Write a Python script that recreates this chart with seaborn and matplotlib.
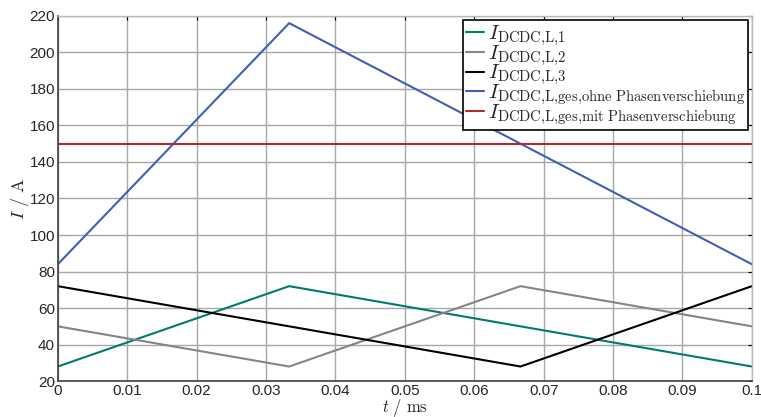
import numpy as np
import pandas as pd
import matplotlib
matplotlib.use("Agg")
import matplotlib.pyplot as plt
import seaborn as sns

# Data
t_ms = [0.0, 0.1 / 3, 0.2 / 3, 0.1]
i_l1 = [28, 72, 50, 28]
i_l2 = [50, 28, 72, 50]
i_l3 = [72, 50, 28, 72]
i_ges_ohne = [84, 216, 150, 84]
i_ges_mit = [150, 150, 150, 150]

labels = [
    r"$I_{\mathrm{DCDC{,}L{,}1}}$",
    r"$I_{\mathrm{DCDC{,}L{,}2}}$",
    r"$I_{\mathrm{DCDC{,}L{,}3}}$",
    r"$I_{\mathrm{DCDC{,}L{,}ges{,}ohne\ Phasenverschiebung}}$",
    r"$I_{\mathrm{DCDC{,}L{,}ges{,}mit\ Phasenverschiebung}}$",
]
colors = ["#007b6c", "#858585", "#000000", "#3f5fb5", "#b22a2a"]

series = [i_l1, i_l2, i_l3, i_ges_ohne, i_ges_mit]
df = pd.concat(
    [pd.DataFrame({"t": t_ms, "I": s, "name": lab}) for s, lab in zip(series, labels)],
    ignore_index=True,
)

sns.set_style("white")
plt.rcParams["font.family"] = ["Liberation Sans", "DejaVu Sans"]
plt.rcParams["mathtext.fontset"] = "cm"

fig, ax = plt.subplots(figsize=(7.61, 4.17), dpi=100)
fig.subplots_adjust(left=0.076, right=0.988, top=0.962, bottom=0.086)

sns.lineplot(data=df, x="t", y="I", hue="name", palette=colors,
             hue_order=labels, linewidth=1.5, ax=ax, estimator=None, sort=False)

ax.set_xlim(0, 0.1)
ax.set_ylim(20, 220)
ax.set_xticks(np.arange(0, 0.1001, 0.01))
ax.set_xticklabels(["0"] + [f"{v:.2f}" for v in np.arange(0.01, 0.0951, 0.01)] + ["0.1"])
ax.set_yticks(range(20, 221, 20))
ax.tick_params(direction="in", length=3, top=True, right=True, labelsize=11,
               color="black", pad=2)
ax.grid(True, color="#a8a8a8", linewidth=1.0)

for side in ["bottom", "left"]:
    ax.spines[side].set_color("#404040")
    ax.spines[side].set_linewidth(1.2)
for side in ["top", "right"]:
    ax.spines[side].set_color("#b8b8b8")
    ax.spines[side].set_linewidth(1.0)

ax.set_xlabel(r"$t\ /\ \mathrm{ms}$", fontsize=12, labelpad=-1)
ax.set_ylabel(r"$I\ /\ \mathrm{A}$", fontsize=13, labelpad=-1)

leg = ax.legend(loc="upper right", fontsize=15, frameon=True, fancybox=False,
                handlelength=0.9, handletextpad=0.15, borderpad=0.15,
                labelspacing=-0.25, borderaxespad=0.2)
leg.get_frame().set_edgecolor("black")
leg.get_frame().set_linewidth(1.2)
leg.get_frame().set_alpha(1)

plt.savefig("out.png", dpi=100)
